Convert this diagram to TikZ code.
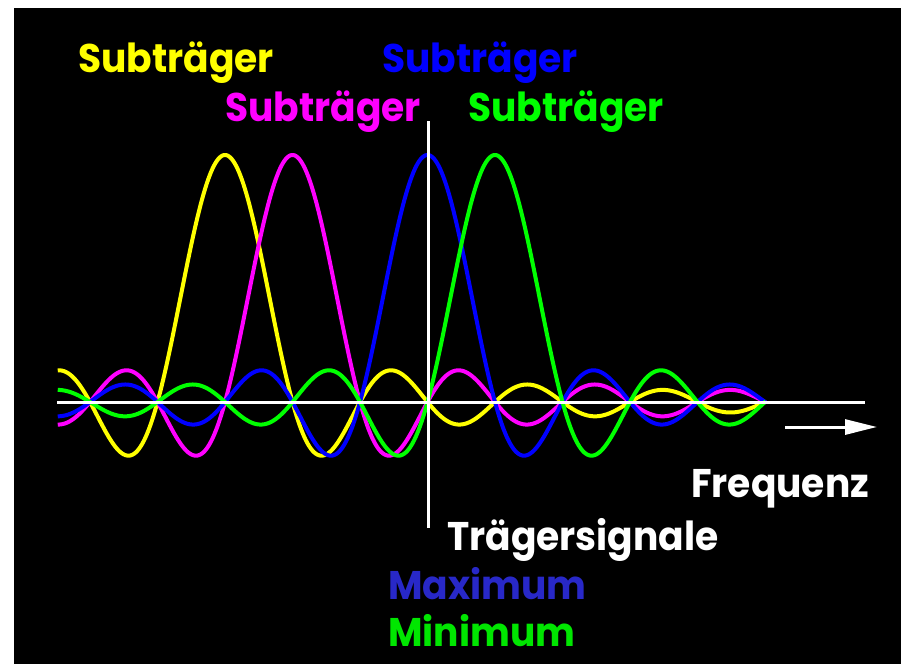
\documentclass[tikz,border=0pt]{standalone}
\usepackage{fontspec}
\setmainfont{Poppins}
\usetikzlibrary{arrows.meta}
\definecolor{colY}{RGB}{255,255,0}
\definecolor{colM}{RGB}{255,0,255}
\definecolor{colB}{RGB}{0,0,255}
\definecolor{colG}{RGB}{0,255,0}
\definecolor{colMax}{RGB}{40,40,200}
\definecolor{colMin}{RGB}{0,230,0}
\newcommand{\lbltxt}[1]{\scalebox{0.94}[1]{#1}}
\begin{document}
\begin{tikzpicture}[x=1pt,y=-1pt,
  lbl/.style={font=\fontsize{40}{40}\selectfont\bfseries, inner sep=0pt, anchor=base west},
  wave/.style={line width=4pt, line join=round},
  wline/.style={white, line width=3pt}]
\fill[white] (0,0) rectangle (901,664);
\fill[black] (14,8) rectangle (901,664);
\useasboundingbox (0,0) rectangle (901,664);
\foreach \c/\col in {225/colY,292.5/colM,427.5/colB,495/colG}{
  \draw[wave,draw=\col] plot[domain=57.75:765.75,samples=473,smooth]
    (\x,{402-247*sin(2.666667*(\x-\c))/(0.0465421*(\x-\c))});
}
\coordinate (axL) at (57,402);
\coordinate (axR) at (865,402);
\draw[wline] (axL) -- (axR);
\coordinate (vT) at (428,121);
\coordinate (vB) at (428,528);
\draw[wline] (vT) -- (vB);
\coordinate (arL) at (785,427);
\coordinate (arR) at (877,427);
\draw[wline,-{Triangle[length=32pt,width=15pt]}] (arL) -- (arR);
\node[lbl,text=colY] (s1) at (78,72) {\lbltxt{Subträger}};
\node[lbl,text=colM] (s2) at (225,121) {\lbltxt{Subträger}};
\node[lbl,text=colB] (s3) at (382,72) {\lbltxt{Subträger}};
\node[lbl,text=colG] (s4) at (468,121) {\lbltxt{Subträger}};
\node[lbl,text=white] (fr) at (691,497) {\lbltxt{Frequenz}};
\node[lbl,text=white] (ts) at (447,550) {\lbltxt{Trägersignale}};
\node[lbl,text=colMax] (mx) at (388,599) {\lbltxt{Maximum}};
\node[lbl,text=colMin] (mn) at (388,646) {\lbltxt{Minimum}};
\end{tikzpicture}
\end{document}
